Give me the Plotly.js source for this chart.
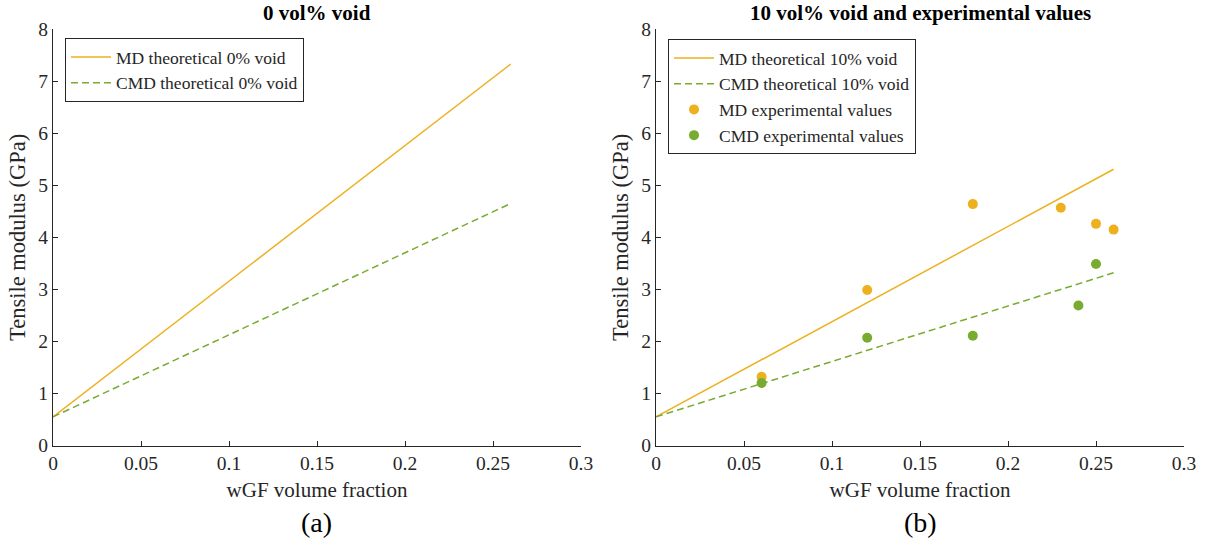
<!DOCTYPE html>
<html>
<head>
<meta charset="utf-8">
<script src="https://cdn.plot.ly/plotly-3.0.1.min.js"></script>
<style>
  html, body { margin: 0; padding: 0; background: #fff; }
  #chart { width: 1209px; height: 546px; }
</style>
</head>
<body>
<div id="chart"></div>
<script>
// Theoretical tensile modulus vs. wGF volume fraction
const vfTheory = [0, 0.26];
const mdTheory0 = [0.55, 7.33];
const cmdTheory0 = [0.55, 4.65];
const mdTheory10 = [0.55, 5.31];
const cmdTheory10 = [0.55, 3.32];

// Measured values
const mdExpX = [0.06, 0.12, 0.18, 0.23, 0.25, 0.26];
const mdExpY = [1.32, 2.99, 4.64, 4.57, 4.26, 4.15];
const cmdExpX = [0.06, 0.12, 0.18, 0.24, 0.25];
const cmdExpY = [1.20, 2.07, 2.11, 2.69, 3.49];

const xTicks = [0, 0.05, 0.1, 0.15, 0.2, 0.25, 0.3];
const xTickText = ['0', '0.05', '0.1', '0.15', '0.2', '0.25', '0.3'];
const yTicks = [0, 1, 2, 3, 4, 5, 6, 7, 8];

const ORANGE = '#EDB120';
const GREEN = '#77AC30';
const INK = '#262626';
const FONT = "'Liberation Serif', 'Times New Roman', 'DejaVu Serif', serif";

const W = 1209, H = 546;
const px = v => v / W;
const py = v => 1 - v / H;

const traces = [
  { x: vfTheory, y: mdTheory0, mode: 'lines', name: 'MD theoretical 0% void',
    line: { color: ORANGE, width: 1.5 }, xaxis: 'x', yaxis: 'y', legend: 'legend' },
  { x: vfTheory, y: cmdTheory0, mode: 'lines', name: 'CMD theoretical 0% void',
    line: { color: GREEN, width: 1.5, dash: '7px,4px' }, xaxis: 'x', yaxis: 'y', legend: 'legend' },
  { x: vfTheory, y: mdTheory10, mode: 'lines', name: 'MD theoretical 10% void',
    line: { color: ORANGE, width: 1.5 }, xaxis: 'x2', yaxis: 'y2', legend: 'legend2' },
  { x: vfTheory, y: cmdTheory10, mode: 'lines', name: 'CMD theoretical 10% void',
    line: { color: GREEN, width: 1.5, dash: '7px,4px' }, xaxis: 'x2', yaxis: 'y2', legend: 'legend2' },
  { x: mdExpX, y: mdExpY, mode: 'markers', name: 'MD experimental values',
    marker: { color: ORANGE, size: 10 }, xaxis: 'x2', yaxis: 'y2', legend: 'legend2' },
  { x: cmdExpX, y: cmdExpY, mode: 'markers', name: 'CMD experimental values',
    marker: { color: GREEN, size: 10 }, xaxis: 'x2', yaxis: 'y2', legend: 'legend2' }
];

function xAxis(domain, anchor) {
  return {
    domain: domain, anchor: anchor, range: [0, 0.3],
    tickmode: 'array', tickvals: xTicks, ticktext: xTickText,
    ticks: 'inside', ticklen: 5, tickcolor: INK, tickwidth: 1,
    showline: true, linecolor: INK, linewidth: 1,
    showgrid: false, zeroline: false,
    tickfont: { family: FONT, size: 19.5, color: INK },
    title: { text: 'wGF volume fraction', font: { family: FONT, size: 21, color: INK }, standoff: 9 }
  };
}
function yAxis(anchor) {
  return {
    domain: [py(445.5), py(29.3)], anchor: anchor, range: [0, 8],
    tickmode: 'array', tickvals: yTicks,
    ticks: 'inside', ticklen: 5, tickcolor: INK, tickwidth: 1,
    showline: true, linecolor: INK, linewidth: 1,
    showgrid: false, zeroline: false,
    tickfont: { family: FONT, size: 19.5, color: INK },
    title: { text: 'Tensile modulus (GPa)', font: { family: FONT, size: 22.5, color: INK }, standoff: 6 }
  };
}

const legendBase = {
  bgcolor: '#ffffff', bordercolor: INK, borderwidth: 1,
  font: { family: FONT, size: 17.5, color: INK },
  xanchor: 'left', yanchor: 'top', tracegroupgap: 0, itemwidth: 40
};

function label(text, x, y, size) {
  return { text: text, x: px(x), y: py(y), xref: 'paper', yref: 'paper',
    xanchor: 'center', yanchor: 'middle', showarrow: false,
    font: { family: FONT, size: size, color: '#000' } };
}

const layout = {
  width: W, height: H,
  margin: { l: 0, r: 0, t: 0, b: 0 },
  paper_bgcolor: '#ffffff', plot_bgcolor: '#ffffff',
  xaxis: xAxis([px(53), px(581)], 'y'),
  yaxis: yAxis('x'),
  xaxis2: xAxis([px(656), px(1184)], 'y2'),
  yaxis2: yAxis('x2'),
  legend: Object.assign({}, legendBase, { x: px(65), y: py(38) }),
  legend2: Object.assign({}, legendBase, { x: px(668), y: py(39) }),
  annotations: [
    label('<b>0 vol% void</b>', 317, 13, 21),
    label('<b>10 vol% void and experimental values</b>', 920, 13, 21),
    label('(a)', 317, 522, 28),
    label('(b)', 920, 522, 28)
  ]
};

Plotly.newPlot('chart', traces, layout, { displayModeBar: false, staticPlot: true });
</script>
</body>
</html>
